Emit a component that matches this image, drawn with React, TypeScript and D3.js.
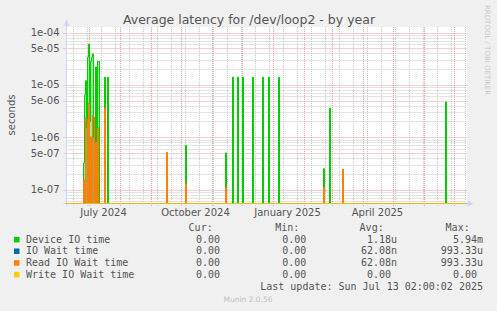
import React from 'react';
import * as d3 from 'd3';

// ---------- data ----------
const startDate = new Date(2024, 5, 8, 2, 0, 0);
const endDate = new Date(2025, 6, 13, 2, 0, 0);

const deviceDates = [
  '2024-06-25', '2024-06-26', '2024-06-27', '2024-06-28', '2024-06-29', '2024-06-30',
  '2024-07-01', '2024-07-02', '2024-07-03', '2024-07-04', '2024-07-05', '2024-07-07',
  '2024-07-09', '2024-07-10', '2024-07-16', '2024-07-19', '2024-09-16', '2024-10-05',
  '2024-11-14', '2024-11-21', '2024-11-26', '2024-12-01', '2024-12-11', '2024-12-21',
  '2024-12-27', '2025-01-06', '2025-02-20', '2025-02-26', '2025-03-11', '2025-06-22',
];
const deviceValues = [
  3.2e-7, 6.4e-6, 1.2e-5, 1.5e-6, 3.4e-5, 6.0e-5,
  2.0e-6, 2.8e-5, 3.4e-5, 3.9e-5, 1.0e-6, 2.2e-5,
  2.8e-5, 2.8e-5, 1.4e-5, 1.4e-5, 5.0e-7, 7.0e-7,
  5.0e-7, 1.4e-5, 1.4e-5, 1.4e-5, 1.4e-5, 1.4e-5,
  1.4e-5, 1.4e-5, 2.5e-7, 3.6e-6, 2.4e-7, 4.7e-6,
];
const readDates = [
  '2024-06-25', '2024-06-27', '2024-06-28', '2024-06-30',
  '2024-07-02', '2024-07-04', '2024-07-05', '2024-07-07', '2024-07-09', '2024-07-16',
  '2024-09-16', '2024-10-05', '2024-11-14', '2025-02-20', '2025-03-11',
];
const readValues = [
  1.5e-7, 2.3e-6, 2.0e-6, 4.4e-6,
  1.0e-6, 2.6e-6, 2.4e-6, 8.0e-7, 1.5e-6, 3.6e-6,
  5.0e-7, 1.3e-7, 1.1e-7, 1.1e-7, 2.4e-7,
];
// IO wait equals read wait (write wait is zero)
const ioWaitDates = readDates;
const ioWaitValues = readValues;
const writeDates: string[] = [];
const writeValues: number[] = [];

const yTickValues = [1e-4, 5e-5, 1e-5, 5e-6, 1e-6, 5e-7, 1e-7];
const yTickLabels = ['1e-04', '5e-05', '1e-05', '5e-06', '1e-06', '5e-07', '1e-07'];
const xLabelDates = ['2024-07-15', '2024-10-15', '2025-01-15', '2025-04-15'];
const xLabels = ['July 2024', 'October 2024', 'January 2025', 'April 2025'];

const legendNames = ['Device IO time', 'IO Wait time', 'Read IO Wait time', 'Write IO Wait time'];
const legendColors = ['#00CC00', '#0066B3', '#FF8000', '#FFCC00'];
const curValues = ['0.00', '0.00', '0.00', '0.00'];
const minValues = ['0.00', '0.00', '0.00', '0.00'];
const avgValues = ['1.18u', '62.08n', '62.08n', '0.00'];
const maxValues = ['5.94m', '993.33u', '993.33u', '0.00'];

// ---------- layout ----------
const W = 497;
const H = 311;
const plotLeft = 66.5;
const plotRight = 466.5;
const plotTop = 27;
const plotBottom = 203.5;

const parseDay = (s: string) => {
  const [y, m, d] = s.split('-').map(Number);
  return new Date(y, m - 1, d, 2, 0, 0);
};

const xScale = d3.scaleTime().domain([startDate, endDate]).range([plotLeft, plotRight]);
const yScale = d3.scaleLog().domain([1e-7, 1e-4]).range([189.5, 32.5]);

type Pt = { t: Date; v: number };
const DAY = 86400000;
const nDays = Math.round((+endDate - +startDate) / DAY);

function buildSeries(dates: string[], values: number[]): Pt[] {
  const m = new Map<number, number>();
  dates.forEach((s, i) => m.set(Math.round((+parseDay(s) - +startDate) / DAY), values[i]));
  const pts: Pt[] = [];
  for (let d = 0; d <= nDays; d++) {
    pts.push({ t: new Date(+startDate + d * DAY), v: m.get(d) ?? 0 });
  }
  return pts;
}

const yOf = (v: number) => {
  if (!(v > 0)) return plotBottom;
  const y = yScale(v);
  return Math.max(plotTop, Math.min(plotBottom, y));
};

const seriesList = [
  buildSeries(deviceDates, deviceValues),
  buildSeries(ioWaitDates, ioWaitValues),
  buildSeries(readDates, readValues),
  buildSeries(writeDates, writeValues),
];

const lineGen = d3.line<Pt>().x((p) => xScale(p.t)).y((p) => yOf(p.v)).curve(d3.curveStepAfter);
const areaGen = d3
  .area<Pt>()
  .x((p) => xScale(p.t))
  .y0(plotBottom)
  .y1((p) => yOf(p.v))
  .curve(d3.curveStepAfter);

// grid
const hGrid: { y: number; major: boolean }[] = [];
for (let e = -8; e <= -4; e++) {
  for (let k = 1; k <= 9; k++) {
    const v = k * Math.pow(10, e);
    const y = yScale(v);
    if (y >= plotTop && y <= plotBottom) hGrid.push({ y, major: k === 1 || k === 5 });
  }
}
const monthStarts = d3.timeMonth.range(startDate, endDate).map((d) => new Date(d.getFullYear(), d.getMonth(), 1, 2, 0, 0));
const biweekly: Date[] = [];
for (let d = nDays - 1; d >= 0; d -= 14) biweekly.push(new Date(+startDate + d * DAY));

const FONT = 'DejaVu Sans, sans-serif';
const MONO = 'DejaVu Sans Mono, monospace';
const TXT = '#555555';
const charW = 6.02;

const rowY = [242.6, 254.2, 265.9, 277.6];
const colEnds = [226, 312.3, 397, 483];
const headerEnds = [212.7, 299.3, 383.7, 469.7];
const headers = ['Cur:', 'Min:', 'Avg:', 'Max:'];
const cols = [curValues, minValues, avgValues, maxValues];

const fillOpacities = [0.4, 0.3, 0.3, 0.3];

export default function App() {
  return (
    <svg
      width={W}
      height={H}
      viewBox={`0 0 ${W} ${H}`}
      style={{ position: 'absolute', left: 0, top: 0, display: 'block' }}
    >
      <rect x={0} y={0} width={W} height={H} fill="#F0F0F0" />
      <rect x={plotLeft - 0.5} y={plotTop} width={plotRight - plotLeft + 1} height={plotBottom - plotTop} fill="#FFFFFF" />

      {/* minor grid */}
      {hGrid.filter((g) => !g.major).map((g, i) => (
        <line key={'hm' + i} x1={plotLeft} x2={plotRight} y1={Math.round(g.y) + 0.5} y2={Math.round(g.y) + 0.5}
          stroke="#C8C8C8" strokeWidth={1} strokeDasharray="1,1" />
      ))}
      {biweekly.map((d, i) => (
        <line key={'vm' + i} x1={Math.round(xScale(d) - 0.5) + 0.5} x2={Math.round(xScale(d) - 0.5) + 0.5} y1={plotTop} y2={plotBottom + 2}
          stroke="#C8C8C8" strokeWidth={1} strokeDasharray="1,1" />
      ))}
      {/* major grid */}
      {hGrid.filter((g) => g.major).map((g, i) => (
        <line key={'hM' + i} x1={plotLeft - 3} x2={plotRight} y1={Math.round(g.y) + 0.5} y2={Math.round(g.y) + 0.5}
          stroke="#E8A0A0" strokeWidth={1} strokeDasharray="1,1" />
      ))}
      {monthStarts.map((d, i) => (
        <line key={'vM' + i} x1={Math.round(xScale(d) - 0.5) + 0.5} x2={Math.round(xScale(d) - 0.5) + 0.5} y1={plotTop} y2={plotBottom + 3}
          stroke="#E8A0A0" strokeWidth={1} strokeDasharray="1,1" />
      ))}

      {/* axes */}
      <line x1={plotLeft} x2={plotLeft} y1={plotBottom + 2} y2={22} stroke="#CFD6F8" strokeWidth={1} />
      <path d={`M${plotLeft - 3},${26} L${plotLeft + 3},${26} L${plotLeft},${19} Z`} fill="#CFD6F8" />
      <line x1={plotLeft - 3} x2={plotRight + 2} y1={plotBottom} y2={plotBottom} stroke="#CFD6F8" strokeWidth={1} />
      <path d={`M${plotRight + 1},${plotBottom - 3} L${plotRight + 1},${plotBottom + 3} L${plotRight + 7},${plotBottom} Z`} fill="#CFD6F8" />

      {/* series */}
      {seriesList.map((s, i) => (
        <g key={'s' + i}>
          <path d={areaGen(s) ?? ''} fill={legendColors[i]} fillOpacity={fillOpacities[i]} stroke="none" />
          <path d={lineGen(s) ?? ''} fill="none" stroke={legendColors[i]} strokeWidth={1} />
        </g>
      ))}

      {/* title */}
      <text x={249} y={24} textAnchor="middle" fontFamily={FONT} fontSize={12.5} fill={TXT}>
        Average latency for /dev/loop2 - by year
      </text>

      {/* y ticks */}
      {yTickValues.map((v, i) => (
        <text key={'yl' + i} x={59.5} y={yScale(v) + 3.6} textAnchor="end" fontFamily={FONT} fontSize={10} fill={TXT}>
          {yTickLabels[i]}
        </text>
      ))}
      <text transform="translate(15,115) rotate(-90)" textAnchor="middle" fontFamily={FONT} fontSize={10} fill={TXT}>
        seconds
      </text>

      {/* x labels */}
      {xLabelDates.map((s, i) => (
        <text key={'xl' + i} x={xScale(parseDay(s))} y={216} textAnchor="middle" fontFamily={FONT} fontSize={10} fill={TXT}>
          {xLabels[i]}
        </text>
      ))}

      {/* legend */}
      {headers.map((h, i) => (
        <text key={'hd' + i} x={headerEnds[i]} y={230.8} textAnchor="end" fontFamily={MONO} fontSize={10} fill={TXT}>{h}</text>
      ))}
      {legendNames.map((n, r) => (
        <g key={'lg' + r}>
          <rect x={14} y={rowY[r] - 5.7} width={5.5} height={5.5} fill={legendColors[r]} />
          <text x={26} y={rowY[r]} fontFamily={MONO} fontSize={10} fill={TXT}>{n}</text>
          {cols.map((c, ci) => {
            const s = c[r];
            const hasUnit = /[a-zA-Z]$/.test(s);
            return (
              <text key={'v' + ci} x={colEnds[ci] - (hasUnit ? 0 : charW)} y={rowY[r]} textAnchor="end" fontFamily={MONO} fontSize={10} fill={TXT}>
                {s}
              </text>
            );
          })}
        </g>
      ))}
      <text x={483} y={289.8} textAnchor="end" fontFamily={MONO} fontSize={10} fill={TXT}>
        Last update: Sun Jul 13 02:00:02 2025
      </text>
      <text x={248} y={302} textAnchor="middle" fontFamily={FONT} fontSize={7.5} fill="#C0C0C0">
        Munin 2.0.56
      </text>
      <text transform="translate(485,5) rotate(90)" fontFamily={FONT} fontSize={7} fill="#C8C8C8">
        RRDTOOL / TOBI OETIKER
      </text>
    </svg>
  );
}
